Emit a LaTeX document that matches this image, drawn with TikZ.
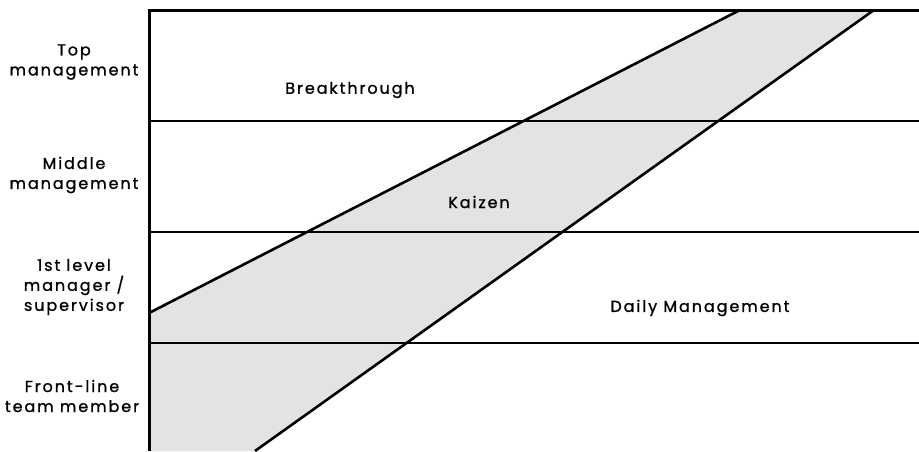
\documentclass[tikz,border=0pt]{standalone}
\usepackage{fontspec}
\setmainfont{Poppins}[LetterSpace=12, FakeBold=1]
\begin{document}
\begin{tikzpicture}[x=1pt,y=-1pt,
  level/.style={font=\fontsize{16}{20}\selectfont, align=center, text=black},
  zone/.style={font=\fontsize{16}{20}\selectfont, text=black},
  frame/.style={line width=3pt},
  divider/.style={line width=1.6pt},
  edge/.style={line width=2.6pt}]
\useasboundingbox (0,0) rectangle (919,451);
% corner points of the kaizen band
\coordinate (ul) at (149,313);
\coordinate (ur) at (740,10);
\coordinate (lr) at (874,10);
\coordinate (ll) at (255,451);
\coordinate (bl) at (149,451);
\fill[gray!22] (ul) -- (ur) -- (lr) -- (ll) -- (bl) -- cycle;
% level dividers
\foreach \y in {121,232,343}
  \draw[divider] (149,\y) -- (919,\y);
% band edges
\draw[edge] (ul) -- (ur);
\draw[edge] (ll) -- (lr);
% frame
\draw[frame] (149,451) -- (149,10) -- (919,10);
% level labels
\node[level] (top) at (74,62) {Top\\management};
\node[level] (mid) at (74,175) {Middle\\management};
\node[level] (first) at (74,287) {1st level\\manager /\\supervisor};
\node[level] (front) at (72,396) {Front-line\\team member};
% zone labels
\node[zone] (brk) at (350,90) {Breakthrough};
\node[zone] (kai) at (479,202) {Kaizen};
\node[zone] (daily) at (700,308) {Daily Management};
\end{tikzpicture}
\end{document}
